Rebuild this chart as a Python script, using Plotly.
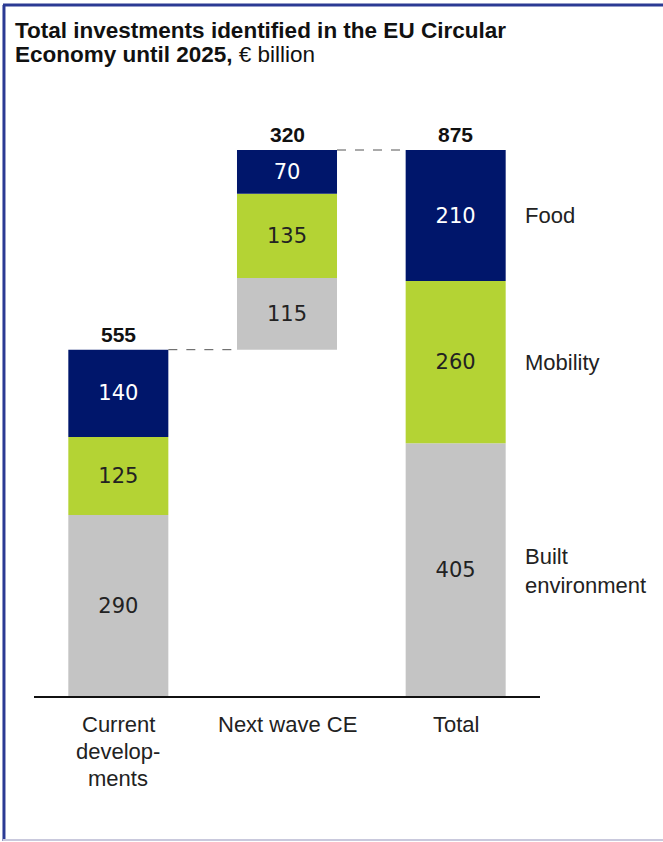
import plotly.graph_objects as go

categories = ["Current<br>develop-<br>ments", "Next wave CE", "Total"]
segments = ["Built environment", "Mobility", "Food"]
built = [290, 115, 405]
mobility = [125, 135, 260]
food = [140, 70, 210]
segment_labels = ["Built<br>environment", "Mobility", "Food"]

colors = {"Built environment": "#c4c4c4", "Mobility": "#b4d334", "Food": "#00166b"}
text_colors = {"Built environment": "#222222", "Mobility": "#222222", "Food": "#ffffff"}

# waterfall offsets
current_total = built[0] + mobility[0] + food[0]
next_total = built[1] + mobility[1] + food[1]
offsets = [0, current_total, 0]
totals = [current_total, next_total, current_total + next_total]

xs = [0, 1, 2]
series = {"Built environment": built, "Mobility": mobility, "Food": food}

fig = go.Figure()
base = list(offsets)
for seg in segments:
    vals = series[seg]
    fig.add_trace(go.Bar(
        x=xs, y=vals, base=list(base), width=0.593,
        marker=dict(color=colors[seg], line=dict(width=0)),
        text=[str(v) for v in vals], textposition="inside",
        insidetextanchor="middle", textangle=0,
        textfont=dict(family="DejaVu Sans", size=21, color=text_colors[seg]),
        hoverinfo="skip", showlegend=False,
    ))
    base = [b + v for b, v in zip(base, vals)]

tops = [o + t for o, t in zip(offsets, totals)]

annotations = []
for x, top, t in zip(xs, tops, totals):
    annotations.append(dict(x=x, y=top, text="<b>%d</b>" % t, showarrow=False,
                            yanchor="bottom", yshift=2,
                            font=dict(family="Liberation Sans", size=21, color="#111111")))

# segment labels on right of total bar
cum = 0
for seg, lab in zip(segments, segment_labels):
    v = series[seg][2]
    mid = cum + v / 2
    cum += v
    y_adj = mid + (-2 if seg == "Built environment" else 0)
    annotations.append(dict(x=2.4, y=y_adj, text=lab, showarrow=False, xanchor="left",
                            align="left", yanchor="middle",
                            font=dict(family="Liberation Sans", size=22, color="#222222")))

# category labels (one annotation per line for spacing)
for x, cat in zip(xs, categories):
    for i, line in enumerate(cat.split("<br>")):
        annotations.append(dict(x=x, xref="x", y=0, yref="y", text=line, showarrow=False,
                                yanchor="middle", yshift=-28 - 27 * i,
                                font=dict(family="Liberation Sans", size=22, color="#222222")))

# title
annotations.append(dict(xref="paper", yref="paper", x=(13 - 34) / 505.5, y=(696 - 30) / 596,
                        xanchor="left", yanchor="middle", showarrow=False, align="left",
                        text="<b>Total investments identified in the EU Circular</b>",
                        font=dict(family="Liberation Sans", size=22.5, color="#111111")))
annotations.append(dict(xref="paper", yref="paper", x=(13 - 34) / 505.5, y=(696 - 55) / 596,
                        xanchor="left", yanchor="middle", showarrow=False, align="left",
                        text="<b>Economy until 2025,</b> € billion",
                        font=dict(family="Liberation Sans", size=22.5, color="#111111")))

hw = 0.593 / 2
shapes = [
    dict(type="line", xref="x", yref="y", x0=0 + hw, x1=1 - hw, y0=tops[0], y1=tops[0],
         line=dict(color="#555555", width=1, dash="dash")),
    dict(type="line", xref="x", yref="y", x0=1 + hw, x1=2 - hw, y0=tops[1], y1=tops[1],
         line=dict(color="#555555", width=1, dash="dash")),
    # frame
    dict(type="line", xref="paper", yref="paper", x0=(4 - 34) / 505.5, x1=(4 - 34) / 505.5,
         y0=(696 - 5) / 596, y1=(696 - 841) / 596, line=dict(color="#2b3a94", width=3)),
    dict(type="line", xref="paper", yref="paper", x0=(3 - 34) / 505.5, x1=(670 - 34) / 505.5,
         y0=(696 - 5) / 596, y1=(696 - 5) / 596, line=dict(color="#2b3a94", width=3)),
    dict(type="line", xref="paper", yref="paper", x0=(3 - 34) / 505.5, x1=(670 - 34) / 505.5,
         y0=(696 - 840) / 596, y1=(696 - 840) / 596, line=dict(color="#c9c9dd", width=2)),
]

ymax = 596 * 875 / 546
fig.update_layout(
    width=663, height=842,
    margin=dict(l=34, r=123, t=100, b=146, autoexpand=False),
    paper_bgcolor="white", plot_bgcolor="white",
    barmode="overlay",
    uniformtext=dict(mode=False),
    xaxis=dict(range=[-0.5, 2.5], showticklabels=False, showgrid=False, zeroline=False,
               showline=True, linecolor="#111111", linewidth=1.5, ticks="", fixedrange=True),
    yaxis=dict(range=[0, ymax], visible=False, showgrid=False, zeroline=False, fixedrange=True),
    annotations=annotations, shapes=shapes,
)

fig.write_html("out.html")
